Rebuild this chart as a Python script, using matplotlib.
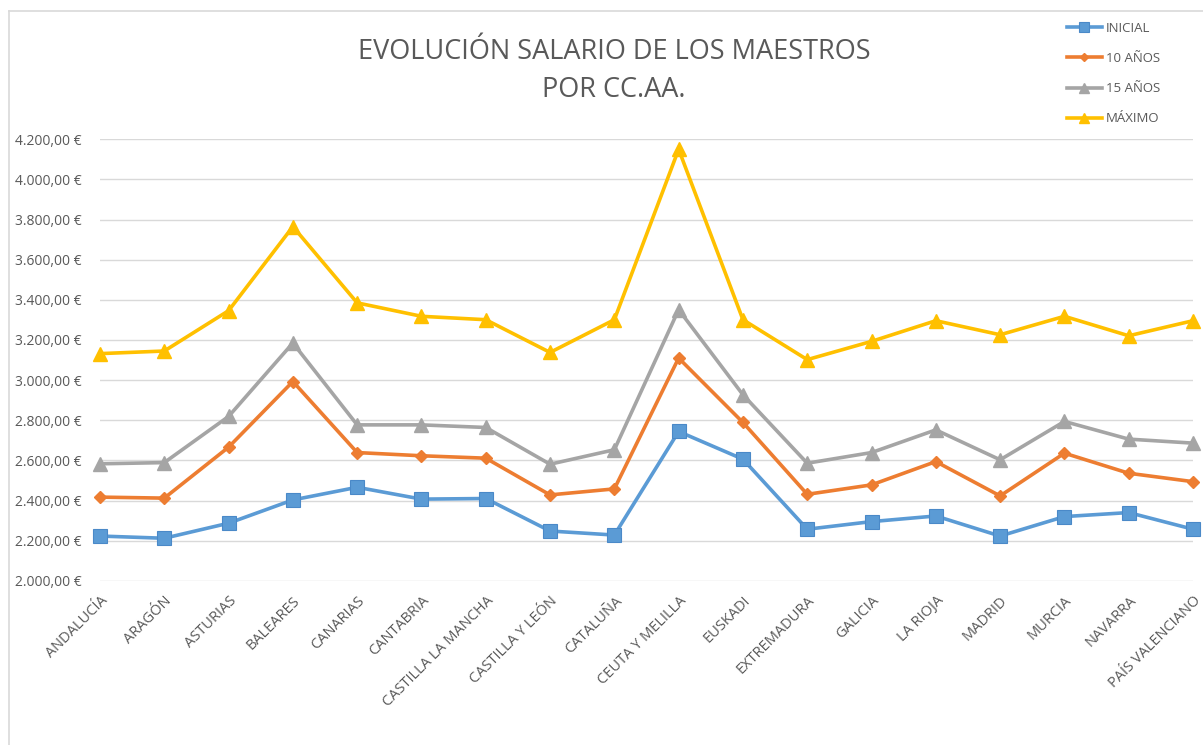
import matplotlib
matplotlib.use("Agg")
import matplotlib.pyplot as plt
from matplotlib.lines import Line2D
from matplotlib.ticker import FuncFormatter

plt.rcParams['font.family'] = ['Open Sans', 'DejaVu Sans']

regions = ["ANDALUCÍA", "ARAGÓN", "ASTURIAS", "BALEARES", "CANARIAS", "CANTABRIA",
           "CASTILLA LA MANCHA", "CASTILLA Y LEÓN", "CATALUÑA", "CEUTA Y MELILLA",
           "EUSKADI", "EXTREMADURA", "GALICIA", "LA RIOJA", "MADRID", "MURCIA",
           "NAVARRA", "PAÍS VALENCIANO"]

inicial = [2223, 2212, 2287, 2403, 2466, 2407, 2410, 2248, 2228, 2744,
           2606, 2257, 2295, 2323, 2223, 2320, 2340, 2257]
diez = [2417, 2412, 2666, 2993, 2639, 2623, 2611, 2428, 2458, 3110,
        2789, 2431, 2478, 2594, 2423, 2636, 2536, 2494]
quince = [2583, 2589, 2819, 3185, 2777, 2777, 2764, 2581, 2653, 3351,
          2927, 2586, 2639, 2752, 2603, 2794, 2706, 2686]
maximo = [3132, 3145, 3346, 3765, 3385, 3318, 3301, 3138, 3301, 4150,
          3301, 3102, 3193, 3296, 3226, 3318, 3221, 3296]

series_names = ["INICIAL", "10 AÑOS", "15 AÑOS", "MÁXIMO"]
yticks = [2000, 2200, 2400, 2600, 2800, 3000, 3200, 3400, 3600, 3800, 4000, 4200]

W, H = 1203, 745
fig = plt.figure(figsize=(W / 100, H / 100), dpi=100)
ax = fig.add_axes([100 / W, 1 - 580.8 / H, (1193 - 100) / W, (580.8 - 139.3) / H])

x = list(range(len(regions)))
styles = [
    dict(color="#5B9BD5", marker="s", markersize=10, markeredgecolor="#4A89C8", markeredgewidth=0.8),
    dict(color="#ED7D31", marker="D", markersize=6.5, markeredgecolor="#ED7D31"),
    dict(color="#A5A5A5", marker="^", markersize=10, markeredgecolor="#A5A5A5"),
    dict(color="#FFC000", marker="^", markersize=10, markeredgecolor="#FFC000"),
]
handles = []
for vals, name, st in zip([inicial, diez, quince, maximo], series_names, styles):
    h, = ax.plot(x, vals, linewidth=2.6, label=name, clip_on=False, zorder=3, **st)
    handles.append(h)

ax.set_xlim(0, len(regions) - 1)
ax.set_ylim(2000, 4200)
ax.set_yticks(yticks)

def euro(v, pos):
    s = f"{v:,.2f}"
    s = s.replace(",", "X").replace(".", ",").replace("X", ".")
    return s + " €"

ax.yaxis.set_major_formatter(FuncFormatter(euro))
ax.grid(axis="y", color="#D9D9D9", linewidth=1.0, zorder=0)
for s in ax.spines.values():
    s.set_visible(False)
ax.tick_params(axis="both", length=0, colors="#595959")
ax.tick_params(axis="y", pad=13, labelsize=10)
ax.set_xticks(x)
ax.set_xticklabels(regions, rotation=45, ha="right", va="top", rotation_mode="anchor")
ax.tick_params(axis="x", pad=9, labelsize=10.5)

fig.text(614 / W, 1 - 52 / H, "EVOLUCIÓN SALARIO DE LOS MAESTROS", ha="center", va="center",
         fontsize=19.5, color="#595959")
fig.text(614 / W, 1 - 90 / H, "POR CC.AA.", ha="center", va="center",
         fontsize=19.5, color="#595959")

leg = fig.legend(handles=handles, labels=series_names, loc="upper left",
                 bbox_to_anchor=(1055 / W, 1 - 10 / H), frameon=False,
                 fontsize=9.5, labelspacing=1.3, handlelength=2.65, handletextpad=0.3,
                 labelcolor="#595959", markerscale=0.7)

# chart border (left and top)
fig.add_artist(Line2D([8.5 / W, 8.5 / W], [0, 1 - 10.5 / H], color="#D9D9D9", linewidth=1.2,
                      transform=fig.transFigure))
fig.add_artist(Line2D([8.5 / W, 1], [1 - 10.5 / H, 1 - 10.5 / H], color="#D9D9D9", linewidth=1.2,
                      transform=fig.transFigure))

fig.savefig("out.png", dpi=100, facecolor="white")
